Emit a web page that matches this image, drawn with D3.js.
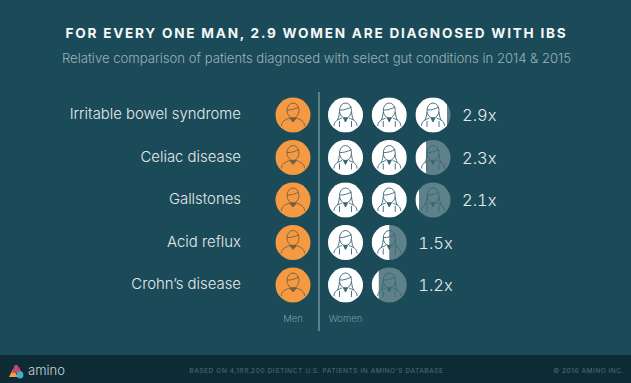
<!DOCTYPE html>
<html>
<head>
<meta charset="utf-8">
<script src="https://cdn.jsdelivr.net/npm/d3@7"></script>
<style>
  html, body { margin: 0; padding: 0; background: #1b4b59; overflow: hidden; }
  text { font-family: Inter, Roboto, sans-serif; }
</style>
</head>
<body>
<svg id="chart" width="631" height="383"></svg>
<script>
// Chart data
const conditions = ['Irritable bowel syndrome', 'Celiac disease', 'Gallstones', 'Acid reflux', "Crohn's disease"]
const womenPerMan = [2.9, 2.3, 2.1, 1.5, 1.2]
const groupLabels = ['Men', 'Women']

const titleText = 'FOR EVERY ONE MAN, 2.9 WOMEN ARE DIAGNOSED WITH IBS'
const subtitleText = 'Relative comparison of patients diagnosed with select gut conditions in 2014 & 2015'
const footerText = "BASED ON 4,188,200 DISTINCT U.S. PATIENTS IN AMINO'S DATABASE"
const copyrightText = '© 2016 AMINO INC.'

// Colors
const backgroundColor = '#1b4b59'
const footerColor = '#0e2b35'
const menColor = '#f59a42'
const womenColor = '#ffffff'
const remainderColor = '#5f8189'
const iconColor = '#3a6774'
const iconMenColor = '#75603f'

const iconRadius = 17.5

const svg = d3.select('#chart')

// Rows are placed by condition, icons in a row by their index
const y = d3.scalePoint().domain(conditions).range([115, 285])
const x = d3.scaleLinear().domain([0, 2]).range([345.5, 433])

svg.append('rect').attr('width', 631).attr('height', 383).attr('fill', backgroundColor)
svg.append('rect').attr('y', 355).attr('width', 631).attr('height', 28).attr('fill', footerColor)

svg.append('text')
  .attr('x', 316.5).attr('y', 38)
  .attr('text-anchor', 'middle')
  .attr('fill', '#f4f7f7')
  .attr('font-size', 13.6)
  .attr('font-weight', 700)
  .attr('letter-spacing', 1.75)
  .text(titleText)

svg.append('text')
  .attr('x', 316.5).attr('y', 63)
  .attr('text-anchor', 'middle')
  .attr('fill', '#9ab2b8')
  .attr('font-size', 13.1)
  .attr('font-weight', 300)
  .text(subtitleText)

// Divider between men and women
svg.append('line')
  .attr('x1', 319).attr('x2', 319)
  .attr('y1', 92).attr('y2', 331)
  .attr('stroke', '#6f919a')
  .attr('stroke-width', 1.5)

/**
 * Draw the outline of a person, centered on the current group
 */
function drawPerson (group, color, isWoman) {
  const person = group.append('g')
    .attr('fill', 'none')
    .attr('stroke', color)
    .attr('stroke-width', 0.9)

  person.append('ellipse').attr('cx', 0).attr('cy', -4.5).attr('rx', 6).attr('ry', 7.5)
  person.append('path').attr('d', 'M-6,-5 C-2,-4.5 3,-6.5 6,-8')
  person.append('path').attr('d', 'M-11.5,11 C-11.5,6 -8,5 -3.5,3 M11.5,11 C11.5,6 8,5 3.5,3')

  if (isWoman) {
    person.append('path').attr('d', 'M-6,-3 C-6.5,0 -6.5,2 -8,5 M6,-3 C6.5,0 6.5,2 8,5')
    person.append('path').attr('d', 'M-6,6 L-6,12 M6,6 L6,12')
    person.append('path').attr('d', 'M-2,3 L0,7 L2,3 Z').attr('fill', color)
  } else {
    person.append('path').attr('d', 'M-3.5,3 L0,7 L3.5,3 Z').attr('fill', color)
  }
}

conditions.forEach((condition, i) => {
  const rowY = y(condition)
  const value = womenPerMan[i]
  const iconCount = Math.ceil(value)

  svg.append('text')
    .attr('x', 241).attr('y', rowY - 1)
    .attr('dy', '.35em')
    .attr('text-anchor', 'end')
    .attr('fill', '#e4eaeb')
    .attr('font-size', 14.9)
    .attr('font-weight', 300)
    .text(condition.replace("'", '’'))

  // One orange icon for the man
  const man = svg.append('g').attr('transform', `translate(293,${rowY})`)
  man.append('circle').attr('r', iconRadius).attr('fill', menColor)
  drawPerson(man, iconMenColor, false)

  // Women icons, the last one only filled up to the fraction
  d3.range(iconCount).forEach((n) => {
    const fill = Math.min(1, value - n)
    const clipId = `clip-${i}-${n}`
    const woman = svg.append('g').attr('transform', `translate(${x(n)},${rowY})`)

    woman.append('clipPath').attr('id', clipId)
      .append('rect')
      .attr('x', -iconRadius).attr('y', -iconRadius)
      .attr('width', iconRadius * 2 * fill).attr('height', iconRadius * 2)

    woman.append('circle').attr('r', iconRadius).attr('fill', remainderColor)
    woman.append('circle').attr('r', iconRadius).attr('fill', womenColor).attr('clip-path', `url(#${clipId})`)
    drawPerson(woman, iconColor, true)
  })

  svg.append('text')
    .attr('x', x(iconCount - 1) + 29).attr('y', rowY)
    .attr('dy', '.38em')
    .attr('fill', '#e4eaeb')
    .attr('font-size', 16.5)
    .attr('font-weight', 300)
    .style('font-variant-numeric', 'tabular-nums')
    .text(`${value}x`)
})

// Column labels
svg.selectAll('.group-label')
  .data(groupLabels)
  .enter().append('text')
    .attr('class', 'group-label')
    .attr('x', (d, i) => i === 0 ? 293 : x(0))
    .attr('y', 322)
    .attr('text-anchor', 'middle')
    .attr('fill', '#7f9da4')
    .attr('font-size', 9.5)
    .attr('font-weight', 300)
    .text((d) => d)

// Footer
svg.append('path').attr('d', 'M9,377 L13,369 L18,377 Z').attr('fill', '#f0a04b')
svg.append('path').attr('d', 'M12,373 L14.5,365.5 Q16,364 18,366 L22.5,373 Z').attr('fill', '#c0476f')
svg.append('circle').attr('cx', 20).attr('cy', 375).attr('r', 3.4).attr('fill', '#3fb0cc')

svg.append('text')
  .attr('x', 28).attr('y', 375)
  .attr('fill', '#c9d6d9')
  .attr('font-size', 13)
  .attr('font-weight', 300)
  .text('amino')

svg.append('text')
  .attr('x', 316.5).attr('y', 373)
  .attr('text-anchor', 'middle')
  .attr('fill', '#4f6f78')
  .attr('font-size', 6.6)
  .attr('letter-spacing', 0.55)
  .text(footerText)

svg.append('text')
  .attr('x', 624).attr('y', 373)
  .attr('text-anchor', 'end')
  .attr('fill', '#4f6f78')
  .attr('font-size', 6.6)
  .attr('letter-spacing', 0.5)
  .text(copyrightText)
</script>
</body>
</html>
